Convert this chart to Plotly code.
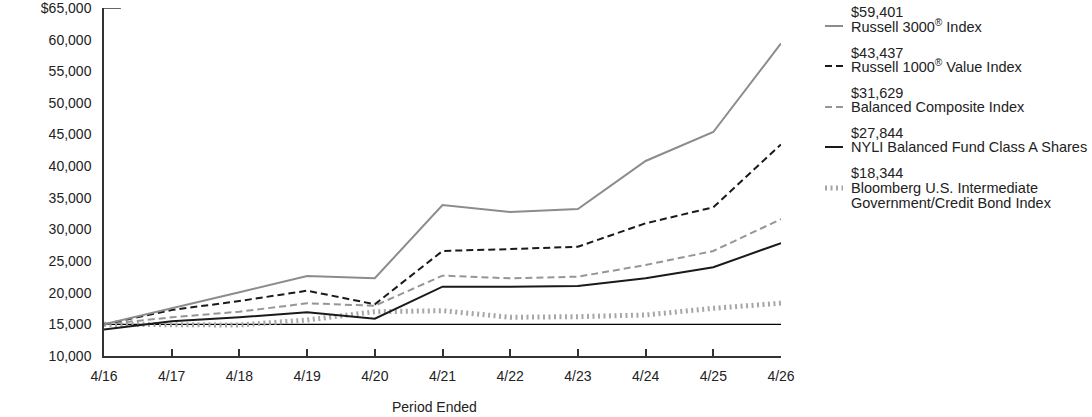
import plotly.graph_objects as go

periods = ["4/16", "4/17", "4/18", "4/19", "4/20", "4/21", "4/22", "4/23", "4/24", "4/25", "4/26"]
russell3000 = [15000, 17590, 20070, 22640, 22280, 33870, 32760, 33230, 40820, 45400, 59401]
russell1000v = [15000, 17270, 18690, 20320, 18170, 26600, 26900, 27270, 30970, 33500, 43437]
balanced_comp = [15000, 16120, 17000, 18330, 17950, 22700, 22280, 22540, 24380, 26600, 31629]
nyli_fund = [14175, 15480, 16110, 16900, 15900, 20950, 20950, 21060, 22280, 24020, 27844]
bloomberg = [15000, 14950, 14900, 15690, 17000, 17160, 16120, 16220, 16480, 17540, 18344]

names = ["Russell 3000<sup>®</sup> Index", "Russell 1000<sup>®</sup> Value Index",
         "Balanced Composite Index", "NYLI Balanced Fund Class A Shares",
         "Bloomberg U.S. Intermediate", "Government/Credit Bond Index"]
end_labels = ["$59,401", "$43,437", "$31,629", "$27,844", "$18,344"]
ytick_vals = [10000, 15000, 20000, 25000, 30000, 35000, 40000, 45000, 50000, 55000, 60000, 65000]
ytick_text = ["10,000", "15,000", "20,000", "25,000", "30,000", "35,000", "40,000",
              "45,000", "50,000", "55,000", "60,000", "$65,000"]
x_title = "Period Ended"

styles = [
    dict(color="#8c8c8c", width=2, dash="solid"),
    dict(color="#1a1a1a", width=2, dash="7px,4px"),
    dict(color="#969696", width=2, dash="7px,4px"),
    dict(color="#1a1a1a", width=2, dash="solid"),
    dict(color="#a6a6a6", width=5, dash="2px,3.5px"),
]
series = [russell3000, russell1000v, balanced_comp, nyli_fund, bloomberg]

fig = go.Figure()
for i in [4, 2, 3, 1, 0]:
    fig.add_trace(go.Scatter(x=list(range(len(periods))), y=series[i], mode="lines",
                             line=styles[i], showlegend=False, hoverinfo="skip"))

font = dict(family="Liberation Sans, Arial, sans-serif", size=14, color="#222")
lfont = dict(family="Liberation Sans, Arial, sans-serif", size=14.5, color="#222")

W, H = 1092, 417
ml, mr, mt, mb = 104, 311, 8, 61
pw = W - ml - mr
ph = H - mt - mb

fig.update_layout(
    width=W, height=H,
    margin=dict(l=ml, r=mr, t=mt, b=mb, autoexpand=False),
    paper_bgcolor="white", plot_bgcolor="white",
    font=font,
    xaxis=dict(range=[0, 10], tickvals=list(range(len(periods))), ticktext=periods,
               showgrid=False, zeroline=False, showline=True, linecolor="#333", linewidth=1.5,
               ticks="inside", ticklen=7, tickcolor="#333", tickwidth=1.5,
               ticklabelstandoff=6, automargin=False),
    yaxis=dict(range=[10000, 65000], tickvals=ytick_vals, ticktext=ytick_text,
               showgrid=False, zeroline=False, showline=True, linecolor="#333", linewidth=1.5,
               ticks="", ticklabelstandoff=8, ticklabeloverflow="allow", automargin=False),
)

fig.add_shape(type="line", xref="x", yref="y", x0=0, x1=10, y0=15000, y1=15000,
              line=dict(color="#000", width=1.2), layer="below")
fig.add_shape(type="line", xref="paper", yref="y", x0=0, x1=0.025, y0=65000, y1=65000,
              line=dict(color="#333", width=1.5))


def px_to_paper_x(px):
    return (px - ml) / pw


def py_to_paper_y(py):
    return 1 - (py - mt) / ph


fig.add_annotation(x=px_to_paper_x(434), y=py_to_paper_y(407), xref="paper", yref="paper",
                   text=x_title, showarrow=False, xanchor="center", yanchor="middle", font=font)

leg_x0, leg_x1, text_x = 825, 843, 849
value_y = [12, 53, 93, 133, 173]
name_y = [26, 66, 107, 147, 188]
for i in range(5):
    fig.add_annotation(x=px_to_paper_x(text_x), y=py_to_paper_y(value_y[i]), xref="paper", yref="paper",
                       text=end_labels[i], showarrow=False, xanchor="left", yanchor="middle", font=lfont)
    fig.add_annotation(x=px_to_paper_x(text_x), y=py_to_paper_y(name_y[i]), xref="paper", yref="paper",
                       text=names[i], showarrow=False, xanchor="left", yanchor="middle", font=lfont)
    st = styles[i]
    fig.add_shape(type="line", xref="paper", yref="paper",
                  x0=px_to_paper_x(leg_x0), x1=px_to_paper_x(leg_x1),
                  y0=py_to_paper_y(name_y[i]), y1=py_to_paper_y(name_y[i]),
                  line=dict(color=st["color"], width=st["width"], dash=st["dash"]))
fig.add_annotation(x=px_to_paper_x(text_x), y=py_to_paper_y(203), xref="paper", yref="paper",
                   text=names[5], showarrow=False, xanchor="left", yanchor="middle", font=lfont)

fig.write_html("out.html")
